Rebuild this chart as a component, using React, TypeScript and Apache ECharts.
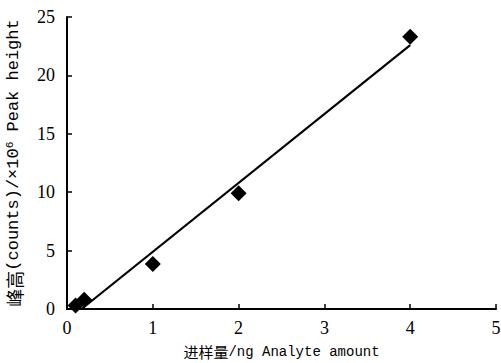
import React, { useEffect, useRef } from "react";
import * as echarts from "echarts";

const amounts = [0.1, 0.2, 1, 2, 4];
const peakHeights = [0.3, 0.8, 3.85, 9.9, 23.3];
const fitX = [0.17, 4];
const fitY = [0, 22.6];

export default function App() {
  const ref = useRef<HTMLDivElement>(null);
  useEffect(() => {
    if (!ref.current) return;
    const chart = echarts.init(ref.current, null, { renderer: "svg" });
    const serif = "serif";
    const mono = "Liberation Mono";
    const cjk = "Noto Sans CJK SC";
    chart.setOption({
      animation: false,
      backgroundColor: "#fff",
      grid: { left: 67, right: 5, top: 17, bottom: 54, containLabel: false, outerBoundsMode: "none" },
      xAxis: {
        type: "value",
        min: 0,
        max: 5,
        interval: 1,
        name: "{c|进样量}{l|/ng Analyte amount}",
        nameLocation: "middle",
        nameGap: 35,
        nameTextStyle: {
          rich: {
            c: { fontFamily: cjk, fontSize: 15, color: "#000" },
            l: { fontFamily: mono, fontSize: 14, color: "#000" },
          },
        },
        axisLine: { lineStyle: { color: "#000", width: 2 } },
        axisTick: { inside: true, length: 5, lineStyle: { color: "#000", width: 1.5 } },
        axisLabel: { fontFamily: serif, fontSize: 18, color: "#000", margin: 10 },
        splitLine: { show: false },
      },
      yAxis: {
        type: "value",
        min: 0,
        max: 25,
        interval: 5,
        name: "{c|峰高}{l|(counts)/×10}{s|6}{l| Peak height}",
        nameLocation: "middle",
        nameGap: 44,
        nameRotate: 90,
        nameTextStyle: {
          rich: {
            c: { fontFamily: cjk, fontSize: 18, color: "#000" },
            l: { fontFamily: mono, fontSize: 17, color: "#000" },
            s: { fontFamily: mono, fontSize: 11, color: "#000", verticalAlign: "top", padding: [0, 0, 8, 0] },
          },
        },
        axisLine: { lineStyle: { color: "#000", width: 2 } },
        axisTick: { inside: true, length: 5, lineStyle: { color: "#000", width: 1.5 } },
        axisLabel: { fontFamily: serif, fontSize: 18, color: "#000", margin: 12 },
        splitLine: { show: false },
      },
      series: [
        {
          type: "line",
          data: fitX.map((x, i) => [x, fitY[i]]),
          symbol: "none",
          lineStyle: { color: "#000", width: 2.2 },
          z: 2,
        },
        {
          type: "scatter",
          data: amounts.map((x, i) => [x, peakHeights[i]]),
          symbol: "diamond",
          symbolSize: [16, 16],
          itemStyle: { color: "#000", opacity: 1 },
          z: 3,
        },
      ],
    });
    return () => chart.dispose();
  }, []);
  return <div ref={ref} style={{ width: 501, height: 363, position: "absolute", left: 0, top: 0 }} />;
}
